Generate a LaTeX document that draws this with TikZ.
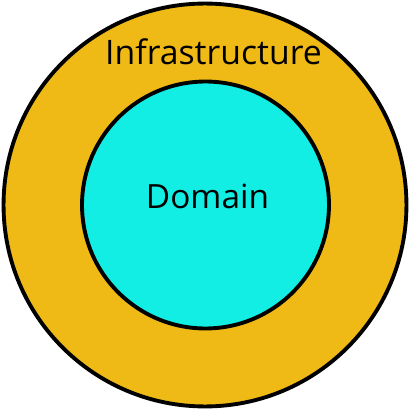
\documentclass[tikz,border=0pt]{standalone}
\usepackage{fontspec}
\setmainfont{Open Sans}
\usetikzlibrary{positioning}
\definecolor{infragold}{RGB}{239, 186, 22}
\definecolor{domaincyan}{RGB}{18, 238, 228}

\begin{document}
\begin{tikzpicture}[x=0.02cm, y=0.02cm, line width=2.2pt]
      \useasboundingbox (0,0) rectangle (410,410);
      \node[circle, draw=black, fill=infragold, minimum size=8.06cm, inner sep=0pt] (infra) at (205,205) {};
      \node[circle, draw=black, fill=domaincyan, minimum size=4.94cm, inner sep=0pt] (dom) at (205.5,205) {};
      \node[anchor=base, font=\fontsize{19.2}{23}\selectfont, inner sep=0pt] (infralbl) at (213.5,345) {Infrastructure};
      \node[anchor=base, font=\fontsize{19}{23}\selectfont, inner sep=0pt] (domlbl) at (207.5,201) {Domain};
    \end{tikzpicture}
\end{document}
